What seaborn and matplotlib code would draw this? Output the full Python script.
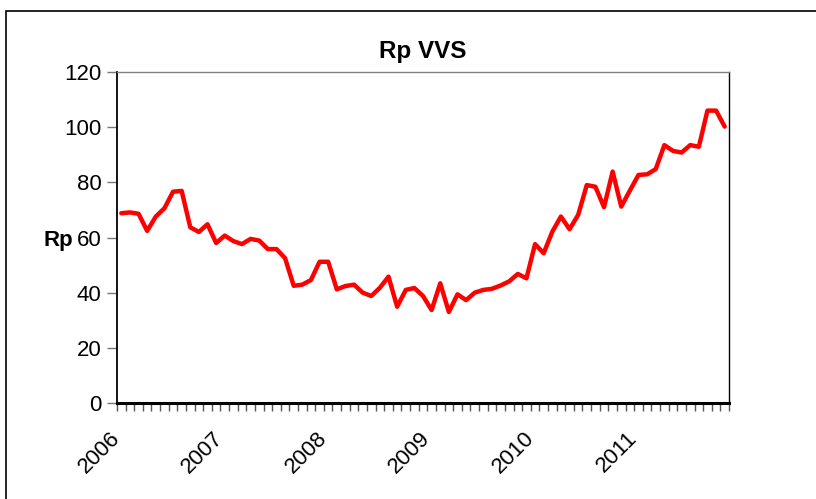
import numpy as np
import pandas as pd
import matplotlib.pyplot as plt
import matplotlib.transforms as mtransforms
import seaborn as sns
from matplotlib.patches import Rectangle

# podaci ocitani s grafa (mjesecne vrijednosti, sijecanj 2006 - studeni 2011)
rp_values = [68.8, 69.1, 68.6, 62.4, 67.6, 70.6, 76.6, 76.9, 63.7, 62.0, 64.8, 58.0,
             60.7, 58.7, 57.6, 59.5, 58.9, 55.8, 55.8, 52.5, 42.5, 42.9, 44.6, 51.2,
             51.2, 41.2, 42.4, 42.9, 40.0, 38.8, 41.8, 45.8, 34.9, 41.0, 41.7, 38.8,
             33.7, 43.4, 33.0, 39.4, 37.3, 40.0, 41.0, 41.4, 42.6, 44.1, 46.8, 45.2,
             57.6, 54.3, 62.1, 67.6, 63.0, 68.2, 79.0, 78.4, 71.0, 83.9, 71.2, 77.0,
             82.7, 82.9, 84.8, 93.5, 91.4, 90.8, 93.5, 92.9, 106.0, 106.0, 100.2]
years = ['2006', '2007', '2008', '2009', '2010', '2011']
y_ticks = [0, 20, 40, 60, 80, 100, 120]

df = pd.DataFrame({'month': range(len(rp_values)), 'rp': rp_values})

sns.set_style('white')
plt.rcParams['font.family'] = ['Liberation Sans', 'DejaVu Sans']
plt.rcParams['text.color'] = 'black'
plt.rcParams['xtick.color'] = 'black'
plt.rcParams['ytick.color'] = 'black'
plt.rcParams['axes.labelcolor'] = 'black'

fig = plt.figure(figsize=(8.16, 4.99), dpi=100)
ax = fig.add_axes([117/816, 1 - 403/499, 612/816, 331/499])

sns.lineplot(data=df, x='month', y='rp', color='#ff0000', linewidth=3.2, ax=ax)

n = len(rp_values)
ax.set_yticks(y_ticks)
ax.set_yticklabels([str(v) for v in y_ticks], fontsize=16)

# oznake godina svakih 12 mjeseci
ax.set_xticks([12 * i - 0.5 for i in range(len(years))])
ax.set_xticklabels(years, fontsize=16, rotation=45, ha='right',
                   va='center', rotation_mode='anchor')
ax.set_xticks(np.arange(-0.5, n, 1.0), minor=True)
ax.set_xlim(-0.5, n - 0.5)
ax.set_ylim(0, 120)
shift = mtransforms.ScaledTranslation(-9/100, 0, fig.dpi_scale_trans)
for lbl in ax.get_xticklabels():
    lbl.set_transform(lbl.get_transform() + shift)
ax.tick_params(axis='x', which='both', length=6, width=1, color='#555555',
               direction='out', bottom=True)
ax.tick_params(axis='x', which='major', pad=17)
ax.tick_params(axis='y', length=7, width=1, color='#777777', direction='out',
               left=True, pad=4)

ax.set_xlabel('')
ax.set_ylabel('Rp', rotation=0, fontsize=16, fontweight='bold',
              ha='right', va='center')
ax.yaxis.set_label_coords(-0.071, 0.49)
ax.set_title('Rp VVS', fontsize=17.5, fontweight='bold', pad=10)

ax.spines['bottom'].set_linewidth(2.2)
ax.spines['bottom'].set_color('black')
ax.spines['left'].set_linewidth(1.3)
ax.spines['left'].set_color('black')
ax.spines['top'].set_linewidth(1.0)
ax.spines['top'].set_color('#808080')
ax.spines['right'].set_linewidth(1.0)
ax.spines['right'].set_color('black')

# okvir oko cijelog grafikona
fig.patches.append(Rectangle((6/816, -0.05), 1.2, (499 - 11)/499 + 0.05,
                             transform=fig.transFigure, fill=False,
                             edgecolor='black', linewidth=1.2))

fig.savefig('out.png', dpi=100)
